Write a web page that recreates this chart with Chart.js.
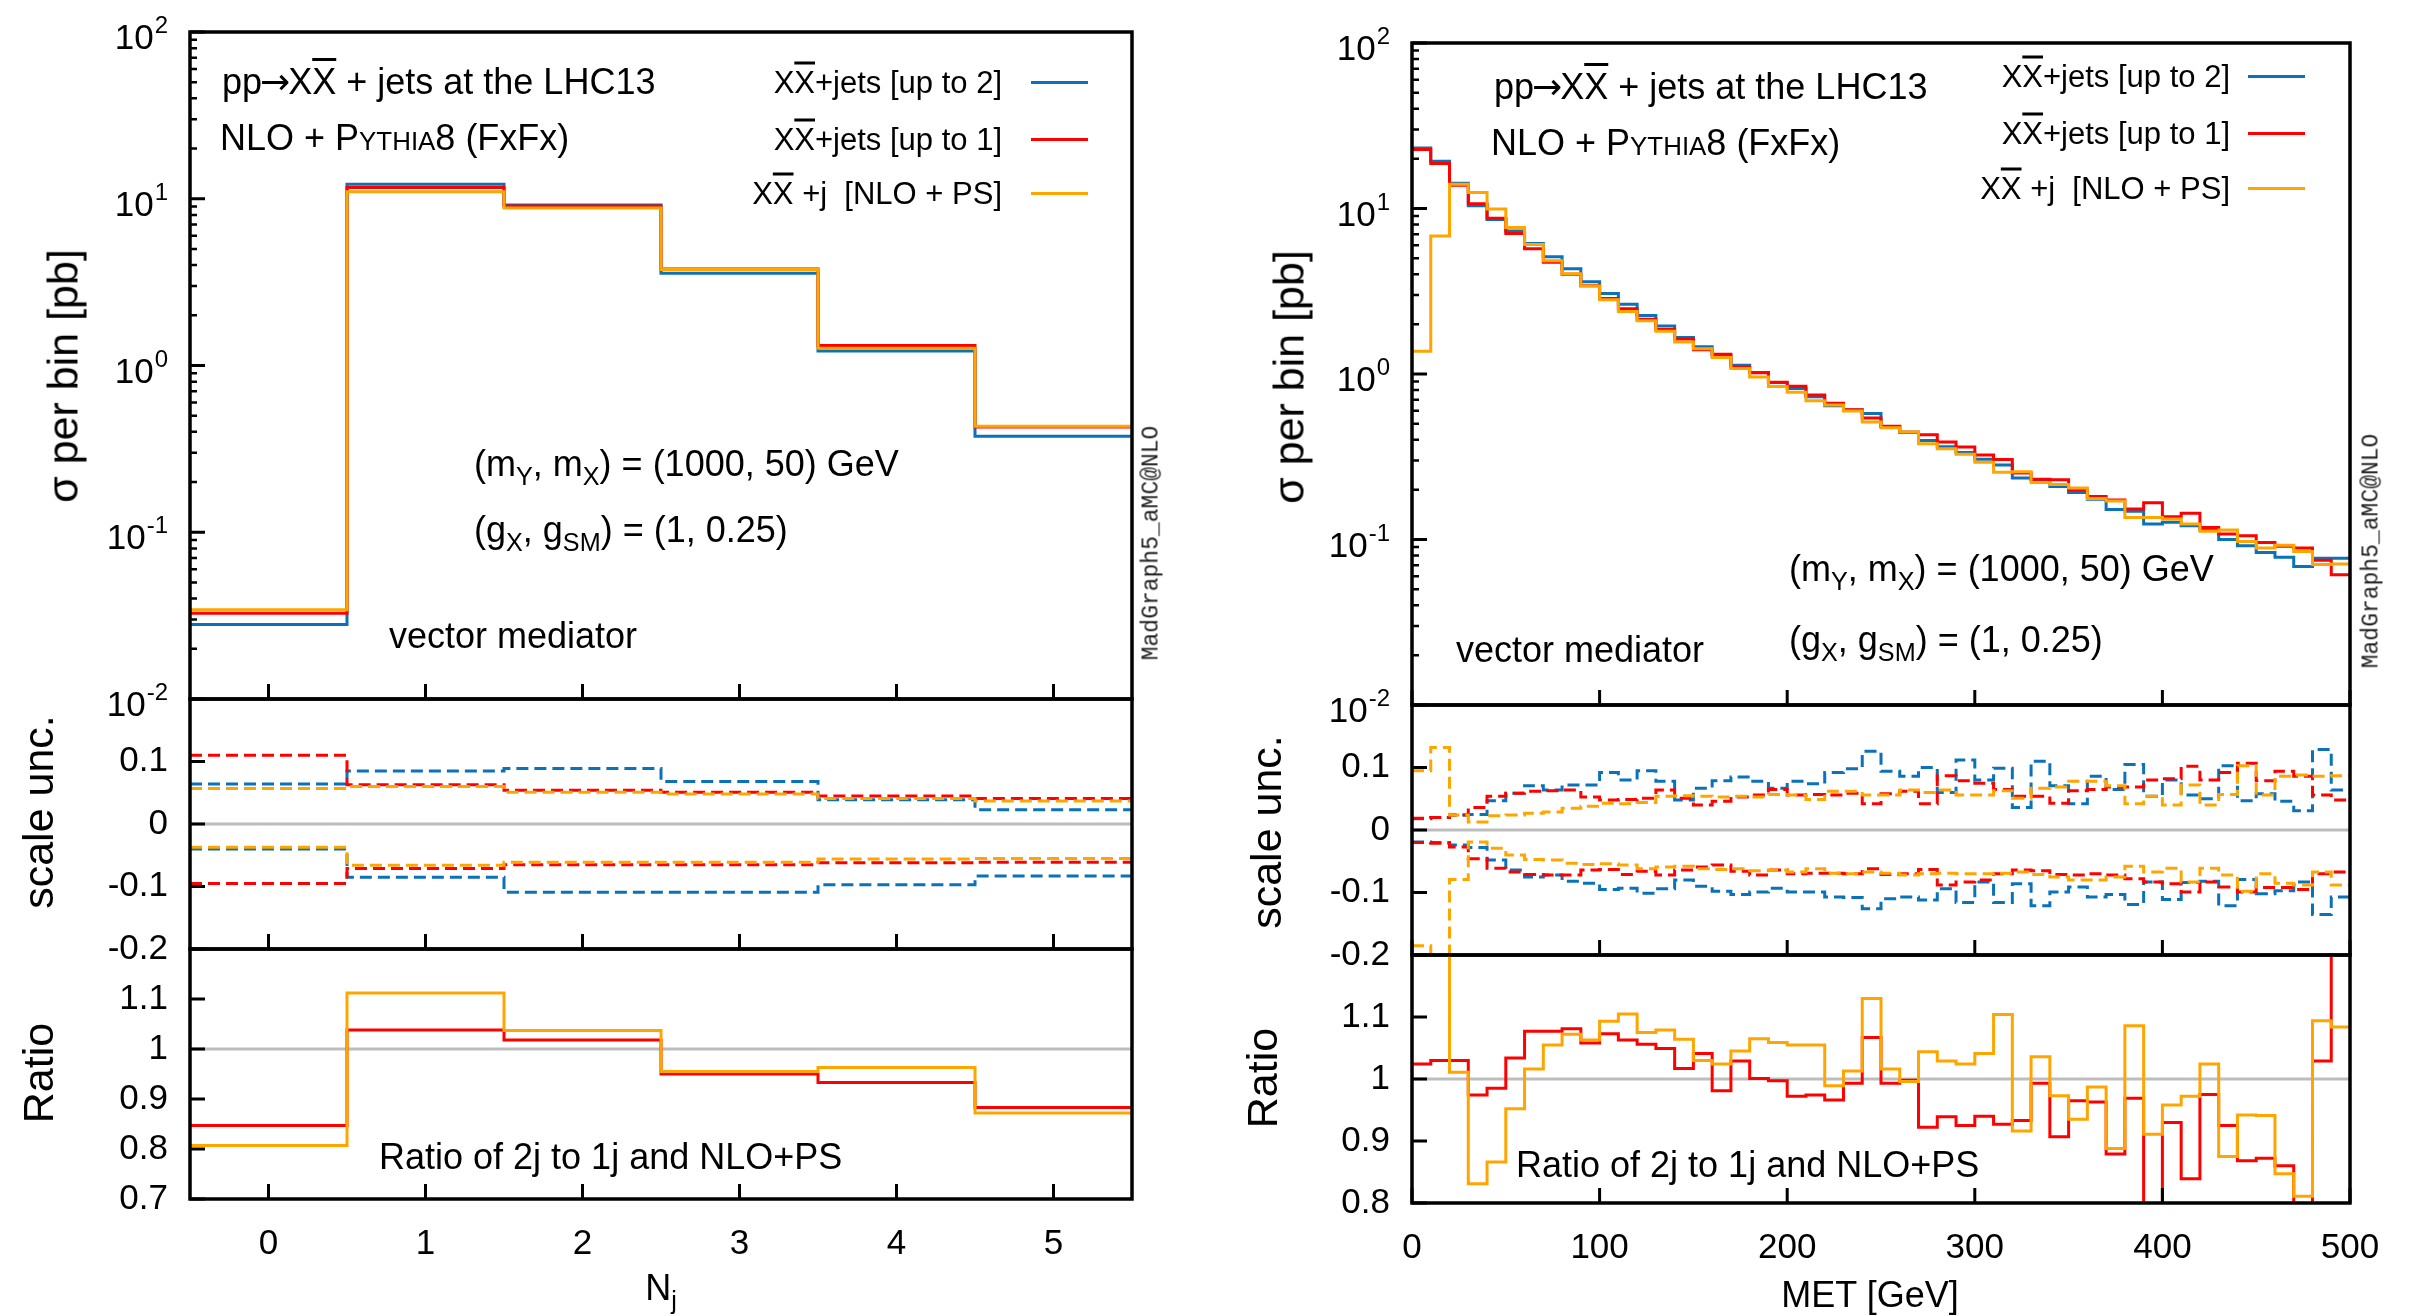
<!DOCTYPE html>
<html lang="en">
<head>
<meta charset="UTF-8">
<title>pp → XX̄ + jets at the LHC13, NLO + Pythia8 (FxFx)</title>
<script src="https://cdn.jsdelivr.net/npm/chart.js"></script>
<style>
  body { margin: 0; width: 2412px; height: 1316px; background: #fff; position: relative; overflow: hidden;
         font-family: "Liberation Sans", Arial, Helvetica, sans-serif; color: #000; }
  canvas { position: absolute; display: block; }
  .txt { position: absolute; white-space: nowrap; line-height: 1; font-size: 36px; transform: translateY(-50%); }
  .leg { position: absolute; white-space: nowrap; line-height: 1; font-size: 31px; transform: translate(-100%, -50%); }
  .legline { position: absolute; height: 3px; width: 57px; }
  .ytitle { position: absolute; white-space: nowrap; line-height: 1; font-size: 43px; transform: translate(-50%, -50%) rotate(-90deg); }
  .xtitle { position: absolute; white-space: nowrap; line-height: 1; font-size: 36px; transform: translate(-50%, -50%); }
  .mg { position: absolute; white-space: nowrap; line-height: 1; font-family: "Liberation Mono", "DejaVu Sans Mono", monospace;
        font-size: 23px; color: #222; transform: translate(-50%, -50%) rotate(-90deg); }
  sub { font-size: 0.7em; vertical-align: -0.35em; line-height: 0; }
  .bar { text-decoration: overline; }
  .sc { font-size: 0.72em; }
  .arr { font-family: "DejaVu Sans", sans-serif; margin: 0 -2px; }
</style>
</head>
<body>

<!-- left column: N_j -->
<canvas id="njMain"></canvas>
<canvas id="njScale"></canvas>
<canvas id="njRatio"></canvas>
<!-- right column: MET -->
<canvas id="metMain"></canvas>
<canvas id="metScale"></canvas>
<canvas id="metRatio"></canvas>

<!-- axis titles -->
<div class="ytitle" style="left:63px; top:376px;">σ per bin [pb]</div>
<div class="ytitle" style="left:38px; top:812px;">scale unc.</div>
<div class="ytitle" style="left:38px; top:1073px;">Ratio</div>
<div class="xtitle" style="left:661px; top:1288px;">N<sub>j</sub></div>

<div class="ytitle" style="left:1289px; top:377px;">σ per bin [pb]</div>
<div class="ytitle" style="left:1266px; top:832px;">scale unc.</div>
<div class="ytitle" style="left:1262px; top:1078px;">Ratio</div>
<div class="xtitle" style="left:1870px; top:1295px;">MET [GeV]</div>

<!-- left annotations -->
<div class="txt" style="left:222px; top:82px;">pp<span class="arr">→</span>X<span class="bar">X</span> + jets at the LHC13</div>
<div class="txt" style="left:220px; top:138px;">NLO + P<span class="sc">YTHIA</span>8 (FxFx)</div>
<div class="txt" style="left:474px; top:464px;">(m<sub>Y</sub>, m<sub>X</sub>) = (1000, 50) GeV</div>
<div class="txt" style="left:474px; top:530px;">(g<sub>X</sub>, g<sub>SM</sub>) = (1, 0.25)</div>
<div class="txt" style="left:389px; top:636px;">vector mediator</div>
<div class="txt" style="left:379px; top:1157px;">Ratio of 2j to 1j and NLO+PS</div>
<div class="mg" style="left:1152px; top:543px;">MadGraph5_aMC@NLO</div>

<div class="leg" style="left:1002px; top:82px;">X<span class="bar">X</span>+jets [up to 2]</div>
<div class="leg" style="left:1002px; top:139px;">X<span class="bar">X</span>+jets [up to 1]</div>
<div class="leg" style="left:1002px; top:193px;">X<span class="bar">X</span> +j&nbsp; [NLO + PS]</div>
<div class="legline" style="left:1031px; top:81px; background:#0a72b8;"></div>
<div class="legline" style="left:1031px; top:138px; background:#ff0000;"></div>
<div class="legline" style="left:1031px; top:192px; background:#ffa500;"></div>

<!-- right annotations -->
<div class="txt" style="left:1494px; top:87px;">pp<span class="arr">→</span>X<span class="bar">X</span> + jets at the LHC13</div>
<div class="txt" style="left:1491px; top:143px;">NLO + P<span class="sc">YTHIA</span>8 (FxFx)</div>
<div class="txt" style="left:1789px; top:569px;">(m<sub>Y</sub>, m<sub>X</sub>) = (1000, 50) GeV</div>
<div class="txt" style="left:1789px; top:640px;">(g<sub>X</sub>, g<sub>SM</sub>) = (1, 0.25)</div>
<div class="txt" style="left:1456px; top:650px;">vector mediator</div>
<div class="txt" style="left:1516px; top:1165px;">Ratio of 2j to 1j and NLO+PS</div>
<div class="mg" style="left:2372px; top:551px;">MadGraph5_aMC@NLO</div>

<div class="leg" style="left:2230px; top:76px;">X<span class="bar">X</span>+jets [up to 2]</div>
<div class="leg" style="left:2230px; top:133px;">X<span class="bar">X</span>+jets [up to 1]</div>
<div class="leg" style="left:2230px; top:188px;">X<span class="bar">X</span> +j&nbsp; [NLO + PS]</div>
<div class="legline" style="left:2248px; top:75px; background:#0a72b8;"></div>
<div class="legline" style="left:2248px; top:132px; background:#ff0000;"></div>
<div class="legline" style="left:2248px; top:187px; background:#ffa500;"></div>

<script>
// ---- N_j histogram (bins centred on integers, width 1) ----
const njBins = [0, 1, 2, 3, 4, 5];
const njUpTo2 = [0.028, 12.2, 9.16, 3.58, 1.22, 0.377];
const njUpTo1 = [0.0327, 11.7, 9.06, 3.79, 1.32, 0.428];
const njNloPs = [0.0343, 11.0, 8.81, 3.77, 1.27, 0.432];

const njUpTo2Up = [0.064, 0.085, 0.089, 0.068, 0.039, 0.023];
const njUpTo2Dn = [-0.040, -0.085, -0.109, -0.109, -0.097, -0.083];
const njUpTo1Up = [0.110, 0.063, 0.054, 0.051, 0.045, 0.041];
const njUpTo1Dn = [-0.095, -0.071, -0.065, -0.065, -0.062, -0.061];
const njNloPsUp = [0.057, 0.060, 0.051, 0.048, 0.041, 0.037];
const njNloPsDn = [-0.037, -0.066, -0.061, -0.061, -0.056, -0.055];

const njRatio1j = [0.847, 1.038, 1.018, 0.950, 0.933, 0.883];
const njRatioPs = [0.807, 1.112, 1.037, 0.955, 0.963, 0.872];

// ---- MET histogram (lower bin edges, width 10 GeV) ----
const metLow = [0, 10, 20, 30, 40, 50, 60, 70, 80, 90, 100, 110, 120, 130, 140, 150, 160, 170, 180, 190,
  200, 210, 220, 230, 240, 250, 260, 270, 280, 290, 300, 310, 320, 330, 340, 350, 360, 370, 380, 390,
  400, 410, 420, 430, 440, 450, 460, 470, 480, 490];

const metUpTo2 = [23.2, 19.3, 14.2, 10.4, 8.59, 7.30, 6.15, 5.11, 4.33, 3.61,
  3.07, 2.64, 2.26, 1.95, 1.66, 1.46, 1.29, 1.13, 1.02, 0.889,
  0.818, 0.728, 0.643, 0.605, 0.578, 0.481, 0.444, 0.396, 0.364, 0.335,
  0.305, 0.282, 0.235, 0.229, 0.209, 0.192, 0.175, 0.152, 0.148, 0.124,
  0.127, 0.121, 0.115, 0.100, 0.0916, 0.0835, 0.0782, 0.0687, 0.0771, 0.0771];
const metUpTo1 = [22.7, 18.7, 13.8, 10.7, 8.72, 7.06, 5.71, 4.74, 4.01, 3.41,
  2.86, 2.48, 2.14, 1.86, 1.63, 1.40, 1.315, 1.098, 1.019, 0.892,
  0.842, 0.747, 0.666, 0.609, 0.542, 0.484, 0.445, 0.430, 0.388, 0.362,
  0.324, 0.304, 0.252, 0.231, 0.230, 0.199, 0.182, 0.173, 0.153, 0.167,
  0.137, 0.144, 0.118, 0.108, 0.1055, 0.0958, 0.0909, 0.0887, 0.0749, 0.0612];
const metNloPs = [1.37, 6.81, 14.0, 12.5, 9.92, 7.67, 6.05, 4.84, 4.04, 3.40,
  2.81, 2.39, 2.10, 1.81, 1.56, 1.42, 1.26, 1.08, 0.958, 0.839,
  0.775, 0.690, 0.650, 0.597, 0.512, 0.473, 0.446, 0.379, 0.354, 0.327,
  0.293, 0.255, 0.257, 0.221, 0.215, 0.205, 0.177, 0.171, 0.136, 0.136,
  0.133, 0.124, 0.112, 0.114, 0.0972, 0.0887, 0.0923, 0.0847, 0.0705, 0.0711];

const metUpTo2Up = [0.018, 0.020, 0.024, 0.025, 0.047, 0.059, 0.071, 0.064, 0.072, 0.072,
  0.092, 0.080, 0.095, 0.078, 0.048, 0.067, 0.079, 0.085, 0.078, 0.067,
  0.078, 0.074, 0.092, 0.098, 0.126, 0.094, 0.086, 0.100, 0.060, 0.112,
  0.080, 0.099, 0.036, 0.110, 0.071, 0.042, 0.086, 0.065, 0.105, 0.054,
  0.080, 0.056, 0.050, 0.103, 0.047, 0.058, 0.046, 0.031, 0.129, 0.064];
const metUpTo2Dn = [-0.019, -0.020, -0.024, -0.028, -0.048, -0.064, -0.075, -0.072, -0.082, -0.085,
  -0.095, -0.093, -0.101, -0.094, -0.080, -0.090, -0.098, -0.103, -0.099, -0.093,
  -0.099, -0.099, -0.107, -0.108, -0.126, -0.110, -0.107, -0.112, -0.094, -0.116,
  -0.083, -0.116, -0.086, -0.121, -0.099, -0.091, -0.107, -0.103, -0.119, -0.083,
  -0.111, -0.084, -0.082, -0.121, -0.079, -0.102, -0.097, -0.083, -0.135, -0.107];
const metUpTo1Up = [0.019, 0.020, 0.024, 0.036, 0.054, 0.059, 0.062, 0.063, 0.064, 0.053,
  0.048, 0.049, 0.051, 0.064, 0.051, 0.040, 0.046, 0.053, 0.056, 0.065,
  0.056, 0.057, 0.056, 0.059, 0.042, 0.058, 0.062, 0.042, 0.087, 0.079,
  0.075, 0.065, 0.054, 0.054, 0.043, 0.063, 0.065, 0.069, 0.069, 0.080,
  0.082, 0.102, 0.080, 0.092, 0.107, 0.079, 0.094, 0.086, 0.056, 0.048];
const metUpTo1Dn = [-0.020, -0.021, -0.027, -0.046, -0.061, -0.067, -0.071, -0.072, -0.072, -0.064,
  -0.063, -0.071, -0.066, -0.072, -0.064, -0.059, -0.056, -0.066, -0.072, -0.064,
  -0.070, -0.069, -0.069, -0.070, -0.062, -0.071, -0.070, -0.063, -0.088, -0.083,
  -0.080, -0.070, -0.064, -0.065, -0.071, -0.072, -0.070, -0.072, -0.078, -0.083,
  -0.086, -0.099, -0.083, -0.091, -0.099, -0.092, -0.092, -0.095, -0.070, -0.067];
const metNloPsUp = [0.095, 0.132, 0.024, 0.013, 0.023, 0.024, 0.027, 0.029, 0.035, 0.038,
  0.043, 0.042, 0.044, 0.054, 0.055, 0.054, 0.053, 0.054, 0.053, 0.057,
  0.056, 0.049, 0.062, 0.062, 0.056, 0.056, 0.064, 0.060, 0.064, 0.056,
  0.056, 0.063, 0.051, 0.067, 0.069, 0.078, 0.078, 0.071, 0.042, 0.054,
  0.040, 0.072, 0.040, 0.057, 0.103, 0.056, 0.086, 0.088, 0.086, 0.087];
const metNloPsDn = [-0.185, -0.25, -0.079, -0.019, -0.029, -0.040, -0.047, -0.048, -0.053, -0.055,
  -0.054, -0.056, -0.062, -0.059, -0.058, -0.062, -0.063, -0.062, -0.065, -0.064,
  -0.067, -0.062, -0.069, -0.070, -0.067, -0.069, -0.072, -0.070, -0.069, -0.070,
  -0.070, -0.069, -0.067, -0.071, -0.075, -0.080, -0.080, -0.075, -0.058, -0.067,
  -0.061, -0.083, -0.061, -0.072, -0.098, -0.070, -0.085, -0.088, -0.067, -0.088];

const metRatio1j = [1.024, 1.030, 1.030, 0.974, 0.985, 1.034, 1.077, 1.077, 1.081, 1.058,
  1.073, 1.063, 1.056, 1.049, 1.017, 1.041, 0.981, 1.029, 1.001, 0.997,
  0.972, 0.974, 0.966, 0.993, 1.067, 0.993, 0.998, 0.922, 0.939, 0.925,
  0.940, 0.927, 0.933, 0.993, 0.907, 0.965, 0.963, 0.879, 0.969, 0.742,
  0.930, 0.839, 0.975, 0.925, 0.868, 0.872, 0.860, 0.775, 1.029, 1.26];
const metRatioPs = [16.9, 2.83, 1.011, 0.831, 0.866, 0.952, 1.016, 1.055, 1.072, 1.063,
  1.093, 1.105, 1.075, 1.079, 1.064, 1.030, 1.024, 1.045, 1.065, 1.059,
  1.055, 1.055, 0.989, 1.013, 1.130, 1.016, 0.996, 1.044, 1.029, 1.024,
  1.041, 1.104, 0.916, 1.036, 0.973, 0.935, 0.987, 0.888, 1.086, 0.911,
  0.958, 0.972, 1.024, 0.875, 0.942, 0.941, 0.847, 0.811, 1.094, 1.084];

// axis tick values
const njTicks = [0, 1, 2, 3, 4, 5];
const metTicks = [0, 100, 200, 300, 400, 500];
const logDecades = [-2, -1, 0, 1, 2];
const scaleTicks = [-0.2, -0.1, 0, 0.1];
const njRatioTicks = [0.7, 0.8, 0.9, 1, 1.1];
const metRatioTicks = [0.8, 0.9, 1, 1.1];

const BLUE = '#0a72b8', RED = '#ff0000', ORANGE = '#ffa500';
const FONT = '"Liberation Sans", Arial, Helvetica, sans-serif';
const AXW = 180, PADT = 50, PADR = 60, PADB = 50, XAH = 80;

const logMajor = logDecades.map(p => Math.pow(10, p));
const logMinor = [];
logMajor.slice(0, -1).forEach(d => { for (let k = 2; k <= 9; k++) logMinor.push(k * d); });

function hist(lows, width, vals, color, dashed, order) {
  const pts = lows.map((x, i) => ({ x: x, y: vals[i] }));
  pts.push({ x: lows[lows.length - 1] + width, y: vals[vals.length - 1] });
  return {
    data: pts, borderColor: color, borderWidth: 3, borderDash: dashed ? [12, 6] : [],
    stepped: true, pointRadius: 0, fill: false, clip: 0, order: order,
    borderJoinStyle: 'miter', borderCapStyle: 'butt'
  };
}

// frame, inward ticks, reference line and 10^n labels
function frame(cfg) {
  return {
    id: 'frame',
    beforeDatasetsDraw(chart) {
      if (cfg.refLine === undefined) return;
      const { ctx, chartArea: a, scales } = chart;
      const y = scales.y.getPixelForValue(cfg.refLine);
      ctx.save();
      ctx.strokeStyle = '#bdbdbd';
      ctx.lineWidth = 3;
      ctx.beginPath(); ctx.moveTo(a.left, y); ctx.lineTo(a.right, y); ctx.stroke();
      ctx.restore();
    },
    afterDraw(chart) {
      const { ctx, chartArea: a, scales } = chart;
      ctx.save();
      ctx.strokeStyle = '#000';
      ctx.lineWidth = 3;
      ctx.beginPath();
      cfg.xTicks.forEach(v => {
        const x = scales.x.getPixelForValue(v);
        ctx.moveTo(x, a.bottom); ctx.lineTo(x, a.bottom - 15);
      });
      cfg.yTicks.forEach(v => {
        const y = scales.y.getPixelForValue(v);
        ctx.moveTo(a.left, y); ctx.lineTo(a.left + 15, y);
      });
      ctx.stroke();
      if (cfg.yMinor) {
        ctx.lineWidth = 2.5;
        ctx.beginPath();
        cfg.yMinor.forEach(v => {
          const y = scales.y.getPixelForValue(v);
          ctx.moveTo(a.left, y); ctx.lineTo(a.left + 7, y);
        });
        ctx.stroke();
      }
      ctx.lineWidth = 3.5;
      ctx.strokeRect(a.left, a.top, a.right - a.left, a.bottom - a.top);

      if (cfg.log) {
        ctx.fillStyle = '#000';
        ctx.textAlign = 'right';
        ctx.textBaseline = 'alphabetic';
        logDecades.forEach(p => {
          const y = scales.y.getPixelForValue(Math.pow(10, p));
          const xr = a.left - 22;
          const e = String(p);
          ctx.font = '24px ' + FONT;
          ctx.fillText(e, xr, y + 1);
          const w = ctx.measureText(e).width;
          ctx.font = '35px ' + FONT;
          ctx.fillText('10', xr - w - 1, y + 17);
        });
      }
      ctx.restore();
    }
  };
}

function panel(id, area, cfg) {
  const cv = document.getElementById(id);
  const w = area.R - area.L + AXW + PADR;
  const h = area.B - area.T + PADT + (cfg.xLabels ? XAH : PADB);
  cv.width = w; cv.height = h;
  cv.style.width = w + 'px'; cv.style.height = h + 'px';
  cv.style.left = (area.L - AXW) + 'px';
  cv.style.top = (area.T - PADT) + 'px';
  return new Chart(cv, {
    type: 'line',
    data: { datasets: cfg.datasets },
    options: {
      responsive: false,
      animation: false,
      devicePixelRatio: 1,
      events: [],
      layout: { padding: { left: 0, top: PADT, right: PADR, bottom: cfg.xLabels ? 0 : PADB } },
      plugins: { legend: { display: false }, tooltip: { enabled: false } },
      scales: {
        x: {
          type: 'linear', min: cfg.xMin, max: cfg.xMax, display: !!cfg.xLabels,
          grid: { display: false, drawTicks: false }, border: { display: false },
          ticks: { font: { family: FONT, size: 35 }, color: '#000', padding: 24, maxRotation: 0, autoSkip: false,
                   callback: v => String(v) },
          afterBuildTicks: s => { s.ticks = cfg.xTicks.map(v => ({ value: v })); },
          afterFit: s => { s.height = cfg.xLabels ? XAH : 0; }
        },
        y: {
          type: cfg.log ? 'logarithmic' : 'linear', min: cfg.yMin, max: cfg.yMax,
          grid: { display: false, drawTicks: false }, border: { display: false },
          ticks: { display: !cfg.log, font: { family: FONT, size: 35 }, color: '#000', padding: 22, autoSkip: false,
                   callback: v => String(v) },
          afterBuildTicks: s => { if (!cfg.log) s.ticks = cfg.yTicks.map(v => ({ value: v })); },
          afterFit: s => { s.width = AXW; }
        }
      }
    },
    plugins: [frame(cfg)]
  });
}

const njLow = njBins.map(b => b - 0.5);
const LC = { L: 190, R: 1132 }, RC = { L: 1412, R: 2350 };

panel('njMain', { L: LC.L, R: LC.R, T: 32, B: 699 }, {
  log: true, xMin: -0.5, xMax: 5.5, yMin: 0.01, yMax: 100,
  xTicks: njTicks, yTicks: logMajor, yMinor: logMinor,
  datasets: [
    hist(njLow, 1, njUpTo2, BLUE, false, 3),
    hist(njLow, 1, njUpTo1, RED, false, 2),
    hist(njLow, 1, njNloPs, ORANGE, false, 1)
  ]
});
panel('njScale', { L: LC.L, R: LC.R, T: 699, B: 949 }, {
  xMin: -0.5, xMax: 5.5, yMin: -0.2, yMax: 0.2, refLine: 0,
  xTicks: njTicks, yTicks: scaleTicks,
  datasets: [
    hist(njLow, 1, njUpTo2Up, BLUE, true, 3),
    hist(njLow, 1, njUpTo2Dn, BLUE, true, 3),
    hist(njLow, 1, njUpTo1Up, RED, true, 2),
    hist(njLow, 1, njUpTo1Dn, RED, true, 2),
    hist(njLow, 1, njNloPsUp, ORANGE, true, 1),
    hist(njLow, 1, njNloPsDn, ORANGE, true, 1)
  ]
});
panel('njRatio', { L: LC.L, R: LC.R, T: 949, B: 1199 }, {
  xLabels: true, xMin: -0.5, xMax: 5.5, yMin: 0.7, yMax: 1.2, refLine: 1,
  xTicks: njTicks, yTicks: njRatioTicks,
  datasets: [
    hist(njLow, 1, njRatio1j, RED, false, 2),
    hist(njLow, 1, njRatioPs, ORANGE, false, 1)
  ]
});

panel('metMain', { L: RC.L, R: RC.R, T: 43, B: 705 }, {
  log: true, xMin: 0, xMax: 500, yMin: 0.01, yMax: 100,
  xTicks: metTicks, yTicks: logMajor, yMinor: logMinor,
  datasets: [
    hist(metLow, 10, metUpTo2, BLUE, false, 3),
    hist(metLow, 10, metUpTo1, RED, false, 2),
    hist(metLow, 10, metNloPs, ORANGE, false, 1)
  ]
});
panel('metScale', { L: RC.L, R: RC.R, T: 705, B: 955 }, {
  xMin: 0, xMax: 500, yMin: -0.2, yMax: 0.2, refLine: 0,
  xTicks: metTicks, yTicks: scaleTicks,
  datasets: [
    hist(metLow, 10, metUpTo2Up, BLUE, true, 3),
    hist(metLow, 10, metUpTo2Dn, BLUE, true, 3),
    hist(metLow, 10, metUpTo1Up, RED, true, 2),
    hist(metLow, 10, metUpTo1Dn, RED, true, 2),
    hist(metLow, 10, metNloPsUp, ORANGE, true, 1),
    hist(metLow, 10, metNloPsDn, ORANGE, true, 1)
  ]
});
panel('metRatio', { L: RC.L, R: RC.R, T: 955, B: 1203 }, {
  xLabels: true, xMin: 0, xMax: 500, yMin: 0.8, yMax: 1.2, refLine: 1,
  xTicks: metTicks, yTicks: metRatioTicks,
  datasets: [
    hist(metLow, 10, metRatio1j, RED, false, 2),
    hist(metLow, 10, metRatioPs, ORANGE, false, 1)
  ]
});
</script>
</body>
</html>
